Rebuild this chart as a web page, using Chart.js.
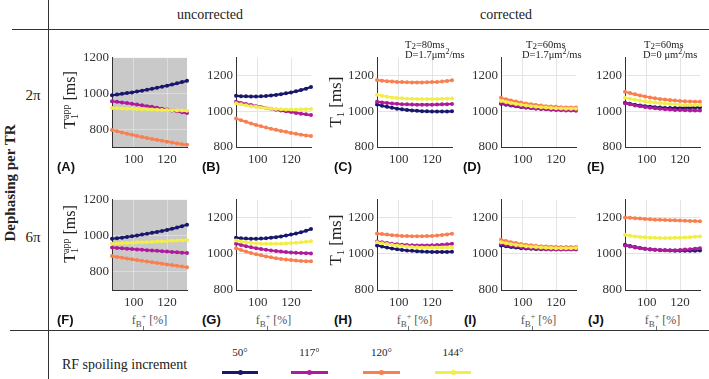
<!DOCTYPE html>
<html><head><meta charset="utf-8">
<script src="https://cdn.jsdelivr.net/npm/chart.js@4/dist/chart.umd.min.js"></script>
<style>
body{margin:0;width:709px;height:379px;background:#fff;position:relative;overflow:hidden;font-family:"Liberation Serif","DejaVu Serif",serif;color:#222;}
canvas{position:absolute;}
.ln{position:absolute;background:#333;}
.t{position:absolute;white-space:nowrap;line-height:1;}
.rot{position:absolute;white-space:nowrap;line-height:1;transform:translate(-50%,-50%) rotate(-90deg);}
.pl{position:absolute;font-family:"Liberation Sans",Arial,sans-serif;font-weight:bold;font-size:13px;line-height:14px;color:#111;}
.xt{position:absolute;transform:translateX(-50%);font-size:12px;color:#555;white-space:nowrap;line-height:1;}
.ann{position:absolute;font-size:10.5px;line-height:1;white-space:nowrap;color:#222;}
.leg{position:absolute;height:3px;}
.legdot{position:absolute;width:5px;height:5px;border-radius:50%;top:-1px;}
.legt{position:absolute;font-size:11px;transform:translateX(-50%);line-height:1;}
</style>
</head><body>
<script>
// ---- data ----
const fB1 = [87, 90, 93, 96, 99, 102, 105, 108, 111, 114, 117, 120, 123, 126, 129, 132];
const xTicks = [100, 120];
const yTicks = [800, 1000, 1200];
const spoilLabels = ['50°', '117°', '120°', '144°'];

// (A) uncorrected, 2π
const A50  = [990, 994, 998, 1002, 1006, 1011, 1016, 1021, 1026, 1032, 1038, 1044, 1050, 1057, 1064, 1071];
const A117 = [956, 953, 950, 946, 942, 938, 934, 929, 925, 920, 915, 910, 905, 900, 895, 890];
const A120 = [795, 788, 781, 774, 768, 762, 756, 750, 745, 740, 735, 730, 725, 720, 716, 712];
const A144 = [918, 917, 916, 915, 914, 913, 912, 911, 910, 909, 908, 907, 906, 905, 904, 903];
// (B) 2π
const B50  = [1087, 1085, 1084, 1083, 1083, 1084, 1086, 1089, 1092, 1096, 1101, 1106, 1112, 1119, 1127, 1136];
const B117 = [1054, 1047, 1041, 1035, 1029, 1024, 1019, 1014, 1009, 1004, 1000, 996, 991, 987, 983, 979];
const B120 = [960, 950, 941, 932, 924, 916, 909, 902, 896, 890, 885, 879, 874, 869, 865, 861];
const B144 = [1045, 1039, 1034, 1029, 1025, 1021, 1018, 1015, 1013, 1011, 1010, 1010, 1010, 1011, 1012, 1013];
// (C) T2=80ms D=1.7
const C50  = [1038, 1031, 1025, 1020, 1015, 1011, 1008, 1005, 1003, 1001, 1000, 999, 999, 999, 999, 1000];
const C117 = [1054, 1050, 1047, 1044, 1042, 1040, 1039, 1038, 1037, 1037, 1037, 1037, 1038, 1039, 1040, 1041];
const C120 = [1175, 1172, 1169, 1167, 1165, 1164, 1163, 1162, 1162, 1162, 1163, 1164, 1165, 1167, 1170, 1174];
const C144 = [1093, 1087, 1082, 1078, 1075, 1073, 1071, 1070, 1069, 1069, 1069, 1069, 1069, 1070, 1071, 1072];
// (D) T2=60ms D=1.7
const D50  = [1042, 1037, 1032, 1028, 1024, 1021, 1018, 1016, 1014, 1013, 1012, 1012, 1012, 1013, 1014, 1015];
const D117 = [1046, 1040, 1035, 1030, 1026, 1022, 1019, 1016, 1013, 1011, 1009, 1007, 1006, 1005, 1004, 1003];
const D120 = [1076, 1068, 1061, 1055, 1049, 1044, 1040, 1036, 1032, 1029, 1027, 1025, 1023, 1022, 1021, 1021];
const D144 = [1058, 1052, 1046, 1041, 1037, 1033, 1029, 1026, 1023, 1021, 1019, 1017, 1016, 1015, 1015, 1015];
// (E) T2=60ms D=0
const E50  = [1048, 1042, 1037, 1033, 1029, 1026, 1023, 1021, 1019, 1018, 1018, 1018, 1019, 1020, 1021, 1022];
const E117 = [1045, 1039, 1033, 1028, 1024, 1020, 1017, 1014, 1012, 1010, 1008, 1007, 1006, 1005, 1004, 1004];
const E120 = [1110, 1102, 1095, 1089, 1083, 1078, 1073, 1069, 1066, 1063, 1060, 1058, 1056, 1055, 1054, 1053];
const E144 = [1076, 1070, 1065, 1060, 1056, 1052, 1049, 1046, 1043, 1041, 1039, 1037, 1036, 1035, 1035, 1035];
// (F) uncorrected, 6π
const F50  = [984, 987, 990, 994, 998, 1002, 1007, 1012, 1017, 1022, 1027, 1033, 1039, 1046, 1054, 1062];
const F117 = [935, 933, 931, 929, 927, 925, 923, 921, 919, 917, 915, 913, 911, 909, 907, 905];
const F120 = [888, 883, 879, 874, 870, 866, 862, 858, 854, 850, 846, 842, 838, 834, 830, 826];
const F144 = [957, 958, 960, 961, 962, 964, 965, 966, 967, 969, 970, 971, 973, 974, 976, 977];
// (G)
const G50  = [1090, 1087, 1085, 1084, 1084, 1085, 1087, 1090, 1093, 1097, 1102, 1107, 1113, 1120, 1128, 1138];
const G117 = [1057, 1050, 1043, 1037, 1032, 1027, 1023, 1019, 1016, 1013, 1010, 1008, 1006, 1005, 1004, 1003];
const G120 = [1032, 1022, 1013, 1005, 998, 992, 986, 981, 976, 972, 969, 966, 963, 961, 960, 959];
const G144 = [1075, 1069, 1065, 1061, 1059, 1057, 1056, 1056, 1056, 1057, 1058, 1060, 1062, 1064, 1067, 1070];
// (H)
const H50  = [1047, 1041, 1035, 1030, 1026, 1022, 1019, 1017, 1015, 1013, 1012, 1011, 1011, 1011, 1011, 1012];
const H117 = [1069, 1064, 1060, 1056, 1053, 1051, 1049, 1048, 1047, 1047, 1047, 1048, 1049, 1051, 1053, 1056];
const H120 = [1113, 1110, 1107, 1104, 1102, 1100, 1099, 1098, 1098, 1098, 1099, 1100, 1102, 1105, 1108, 1112];
const H144 = [1064, 1059, 1055, 1051, 1047, 1044, 1041, 1039, 1037, 1036, 1035, 1035, 1035, 1035, 1035, 1036];
// (I)
const I50  = [1047, 1042, 1038, 1035, 1032, 1030, 1028, 1027, 1026, 1026, 1026, 1026, 1026, 1027, 1027, 1028];
const I117 = [1056, 1050, 1045, 1041, 1037, 1034, 1031, 1029, 1027, 1026, 1025, 1024, 1024, 1024, 1024, 1024];
const I120 = [1078, 1071, 1065, 1060, 1055, 1051, 1048, 1045, 1043, 1041, 1040, 1039, 1038, 1038, 1038, 1039];
const I144 = [1064, 1059, 1054, 1050, 1046, 1043, 1040, 1038, 1036, 1034, 1033, 1032, 1032, 1032, 1032, 1033];
// (J)
const J50  = [1051, 1044, 1038, 1033, 1029, 1026, 1023, 1021, 1020, 1019, 1018, 1018, 1018, 1018, 1018, 1019];
const J117 = [1047, 1041, 1036, 1032, 1028, 1025, 1023, 1022, 1021, 1021, 1021, 1022, 1024, 1026, 1029, 1032];
const J120 = [1202, 1200, 1198, 1196, 1194, 1192, 1190, 1189, 1188, 1187, 1186, 1185, 1184, 1183, 1182, 1181];
const J144 = [1106, 1101, 1097, 1094, 1092, 1090, 1089, 1088, 1088, 1088, 1089, 1090, 1091, 1093, 1095, 1097];

// ---- styling / layout ----
const COLORS = ['#17176c', '#b0199c', '#f97f50', '#f2ee48'];
const SER = "'Liberation Serif', 'DejaVu Serif', serif";

function el(cls, html, css){
  const d = document.createElement('div');
  d.className = cls; d.innerHTML = html; Object.assign(d.style, css);
  document.body.appendChild(d); return d;
}

const bgPlugin = {id:'bg', beforeDraw(c, a, o){
  if(!o || !o.color) return;
  const ca = c.chartArea; const ctx = c.ctx;
  ctx.save(); ctx.fillStyle = o.color; ctx.fillRect(ca.left, ca.top, ca.right-ca.left, ca.bottom-ca.top); ctx.restore();
}};

function makePanel(left, top, w, h, ymin, ymax, series, gray){
  const YW=40, PT=10, PR=8, XH=22;
  const cv = document.createElement('canvas');
  cv.width = YW+w+PR; cv.height = PT+h+XH;
  cv.style.left = (left-YW)+'px'; cv.style.top = (top-PT)+'px';
  cv.style.width = cv.width+'px'; cv.style.height = cv.height+'px';
  document.body.appendChild(cv);
  const order = [4,3,2,1];
  const gc = gray ? 'rgba(255,255,255,0.35)' : '#e4e4e4';
  new Chart(cv, {
    type:'line',
    data:{datasets: series.map((vals,i)=>({
      label: spoilLabels[i],
      data: fB1.map((x,k)=>({x:x, y:vals[k]})),
      borderColor: COLORS[i], backgroundColor: COLORS[i],
      pointBackgroundColor: COLORS[i], pointBorderWidth:0, pointRadius:2,
      borderWidth:2.2, tension:0, order: order[i], clip:false
    }))},
    options:{
      responsive:false, animation:false, devicePixelRatio:1,
      layout:{padding:{top:PT,right:PR,left:0,bottom:0}},
      plugins:{legend:{display:false}, tooltip:{enabled:false}, bg:{color: gray ? '#c9c9c9' : null}},
      scales:{
        x:{type:'linear', min:87, max:132,
          afterBuildTicks:s=>{s.ticks = xTicks.map(v=>({value:v}));},
          afterFit:s=>{s.height = XH;},
          grid:{color:gc, drawTicks:false}, border:{color:'#333', width:1},
          ticks:{padding:5, color:'#333', font:{family:SER, size:13}, callback:v=>String(v)}},
        y:{type:'linear', min:ymin, max:ymax,
          afterBuildTicks:s=>{s.ticks = yTicks.map(v=>({value:v}));},
          afterFit:s=>{s.width = YW;},
          grid:{color:gc, drawTicks:false}, border:{color:'#333', width:1},
          ticks:{padding:3, color:'#333', font:{family:SER, size:13}, callback:v=>String(v)}}
      }
    },
    plugins:[bgPlugin]
  });
}

const colL = [112, 236, 377, 501, 625];
const W = 75;
const row1T = 57, row1H = 90, row2T = 199, row2H = 91;

makePanel(colL[0], row1T, W, row1H, 700, 1200, [A50, A117, A120, A144], true);
makePanel(colL[1], row1T, W, row1H, 800, 1300, [B50, B117, B120, B144], false);
makePanel(colL[2], row1T, W, row1H, 800, 1300, [C50, C117, C120, C144], false);
makePanel(colL[3], row1T, W, row1H, 800, 1300, [D50, D117, D120, D144], false);
makePanel(colL[4], row1T, W, row1H, 800, 1300, [E50, E117, E120, E144], false);
makePanel(colL[0], row2T, W, row2H, 700, 1200, [F50, F117, F120, F144], true);
makePanel(colL[1], row2T, W, row2H, 800, 1300, [G50, G117, G120, G144], false);
makePanel(colL[2], row2T, W, row2H, 800, 1300, [H50, H117, H120, H144], false);
makePanel(colL[3], row2T, W, row2H, 800, 1300, [I50, I117, I120, I144], false);
makePanel(colL[4], row2T, W, row2H, 800, 1300, [J50, J117, J120, J144], false);

// frame lines
el('ln','',{left:'12px',top:'29px',width:'697px',height:'1px'});
el('ln','',{left:'10px',top:'330px',width:'699px',height:'1px'});
el('ln','',{left:'48px',top:'0px',width:'1px',height:'379px'});

// headers
el('t','uncorrected',{left:'210px',top:'8px',fontSize:'14px',transform:'translateX(-50%)'});
el('t','corrected',{left:'506px',top:'8px',fontSize:'14px',transform:'translateX(-50%)'});
el('rot','Dephasing per TR',{left:'10px',top:'183px',fontSize:'15px',fontWeight:'bold'});
el('t','2π',{left:'33px',top:'95px',fontSize:'15px',transform:'translate(-50%,-50%)'});
el('t','6π',{left:'33px',top:'237px',fontSize:'15px',transform:'translate(-50%,-50%)'});

// y titles
const tapp = 'T<span style="font-size:10px;vertical-align:-3px">1</span><span style="font-size:10px;vertical-align:6px;margin-left:-5px">app</span> [ms]';
el('rot',tapp,{left:'70px',top:'100px',fontSize:'16px'});
el('rot',tapp,{left:'70px',top:'234px',fontSize:'16px'});
const t1 = 'T<span style="font-size:10px;vertical-align:-3px">1</span> [ms]';
el('rot',t1,{left:'336px',top:'102px',fontSize:'17px'});
el('rot',t1,{left:'336px',top:'240px',fontSize:'17px'});

// panel letters
const letters1 = [['(A)',57],['(B)',202],['(C)',334],['(D)',463],['(E)',587]];
const letters2 = [['(F)',57],['(G)',202],['(H)',334],['(I)',464],['(J)',588]];
letters1.forEach(([s,x])=>el('pl',s,{left:x+'px',top:'160px'}));
letters2.forEach(([s,x])=>el('pl',s,{left:x+'px',top:'313px'}));

// x titles (row 2)
const fb = 'f<span style="font-size:9px;vertical-align:-3px">B</span><span style="font-size:8px;vertical-align:5px">+</span> [%]';
colL.forEach(l=>{
  el('xt',fb,{left:(l+W/2)+'px',top:'313px'});
  el('ln','',{left:(l+W/2-7)+'px',top:'326px',width:'1px',height:'4px',background:'#777'});
});

// annotations
const ann = [
  ['T<span style="font-size:9px;vertical-align:-1px">2</span>=80ms',405,40],['D=1.7μm<sup style="font-size:8px;line-height:0">2</sup>/ms',405,50],
  ['T<span style="font-size:9px;vertical-align:-1px">2</span>=60ms',526,40],['D=1.7μm<sup style="font-size:8px;line-height:0">2</sup>/ms',522,50],
  ['T<span style="font-size:9px;vertical-align:-1px">2</span>=60ms',644,40],['D=0 μm<sup style="font-size:8px;line-height:0">2</sup>/ms',643,50]
];
ann.forEach(([s,x,y])=>el('ann',s,{left:x+'px',top:y+'px'}));

// legend
el('t','RF spoiling increment',{left:'62px',top:'358px',fontSize:'14px'});
const legX = [[222,258],[291,328],[363,400],[435,471]];
legX.forEach(([a,b],i)=>{
  const d = el('leg','',{left:a+'px',top:'371px',width:(b-a)+'px',background:COLORS[i]});
  const dot = document.createElement('div'); dot.className='legdot';
  Object.assign(dot.style,{left:((b-a)/2-2.5)+'px',background:COLORS[i]}); d.appendChild(dot);
  el('legt',spoilLabels[i],{left:((a+b)/2)+'px',top:'347px'});
});
</script>
</body></html>
